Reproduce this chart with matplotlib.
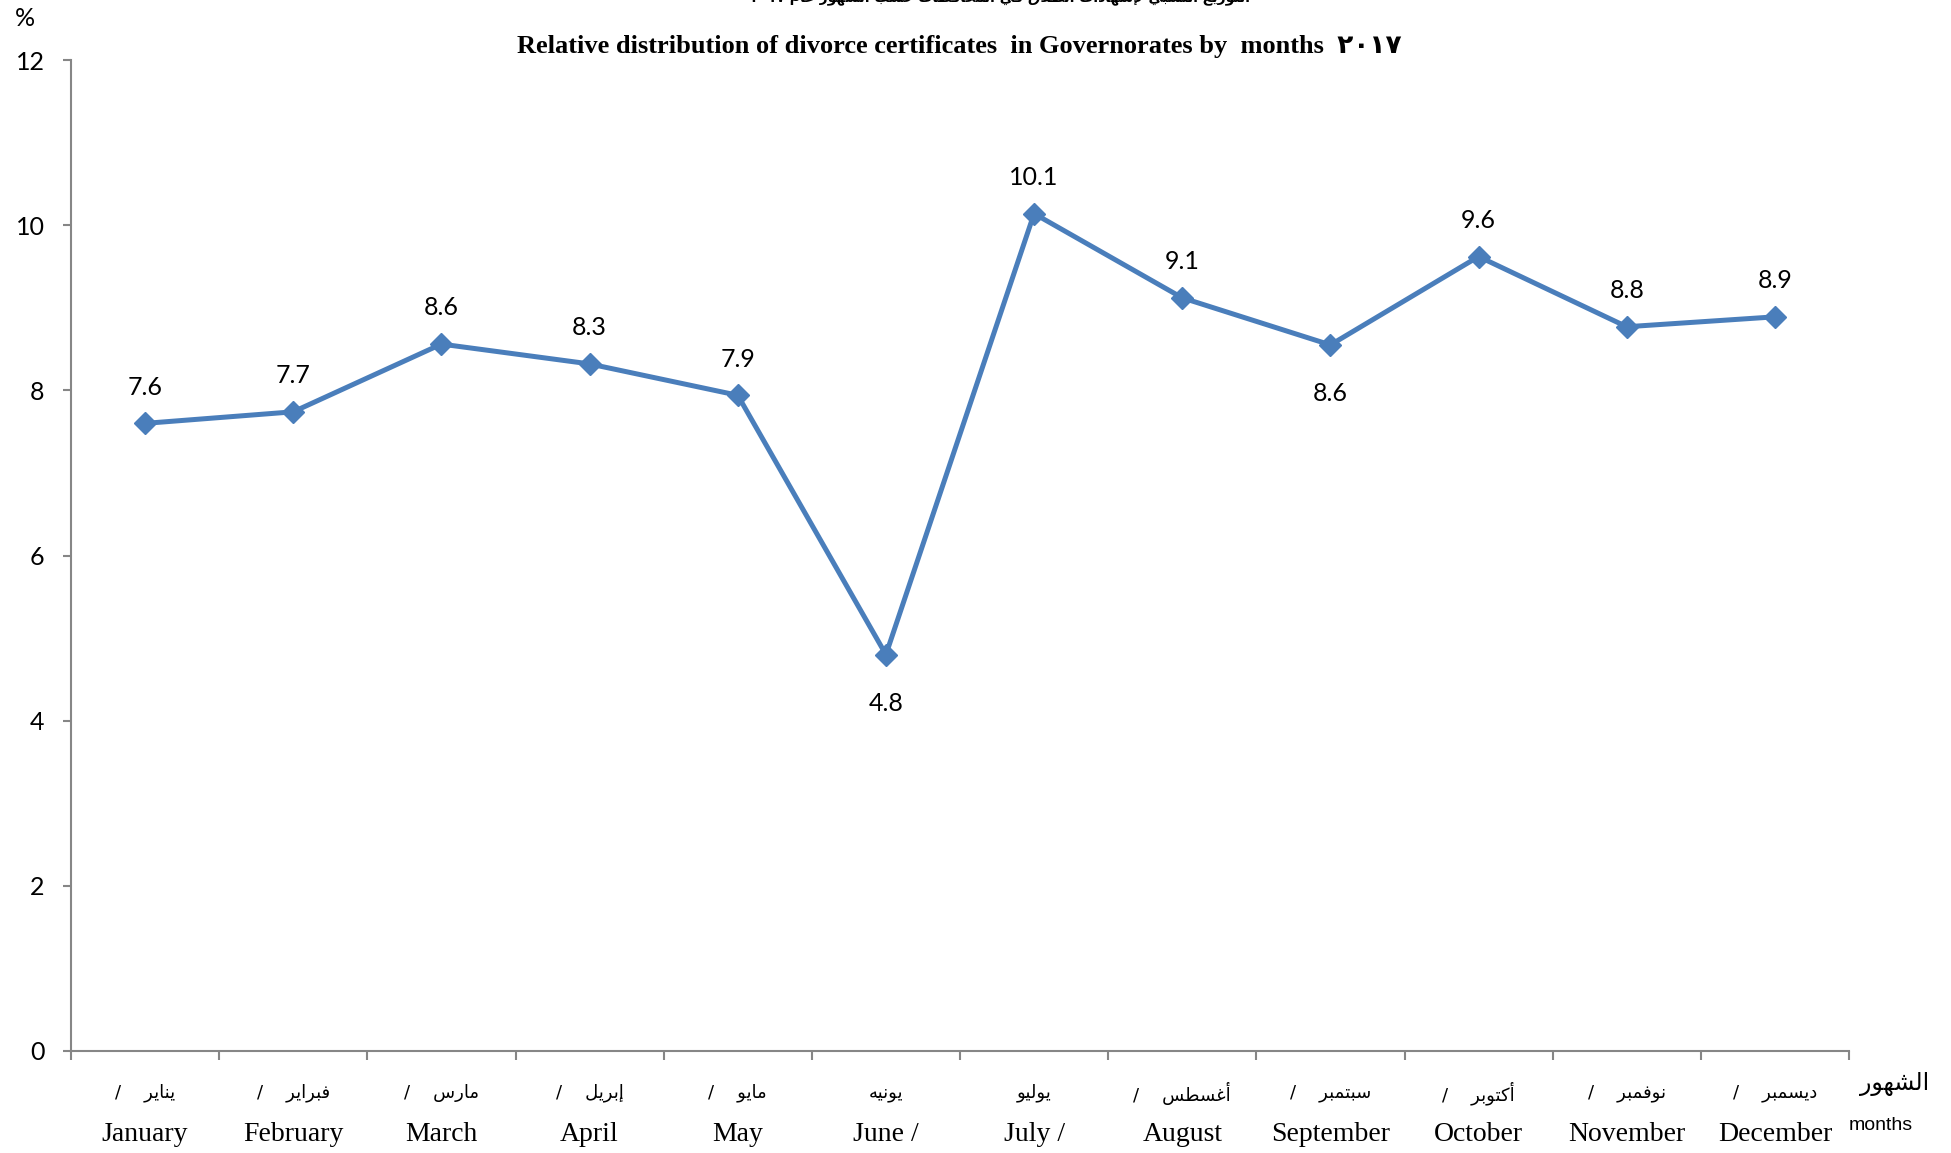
import matplotlib
matplotlib.use('Agg')
import matplotlib.pyplot as plt
import matplotlib.transforms as mtransforms

#--- data ---------------------------------------------------------
months_en = ['January', 'February', 'March', 'April', 'May', 'June /',
             'July /', 'August', 'September', 'October', 'November', 'December']
months_ar = ['يناير', 'فبراير', 'مارس', 'إبريل', 'مايو', 'يونيه',
             'يوليو', 'أغسطس', 'سبتمبر', 'أكتوبر', 'نوفمبر', 'ديسمبر']
ar_slash = [True, True, True, True, True, False,
            False, True, True, True, True, True]
values = [7.6, 7.74, 8.56, 8.32, 7.94, 4.8, 10.14, 9.12, 8.55, 9.62, 8.77, 8.89]
labels = ['7.6', '7.7', '8.6', '8.3', '7.9', '4.8', '10.1', '9.1', '8.6', '9.6', '8.8', '8.9']
label_below = [False, False, False, False, False, True,
               False, False, True, False, False, False]
y_ticks = [0, 2, 4, 6, 8, 10, 12]

title_en = 'Relative distribution of divorce certificates  in Governorates by  months'
title_year = '٢٠١٧'
title_ar = 'التوزيع النسبي لإشهادات الطلاق في المحافظات حسب الشهور عام ٢٠١٧'

#--- minimal arabic shaping (matplotlib has no text shaping) -------
DUAL = {'ب': 0xFE8F, 'ت': 0xFE95, 'ث': 0xFE99, 'ج': 0xFE9D, 'ح': 0xFEA1, 'خ': 0xFEA5,
        'س': 0xFEB1, 'ش': 0xFEB5, 'ص': 0xFEB9, 'ض': 0xFEBD, 'ط': 0xFEC1, 'ظ': 0xFEC5,
        'ع': 0xFEC9, 'غ': 0xFECD, 'ف': 0xFED1, 'ق': 0xFED5, 'ك': 0xFED9, 'ل': 0xFEDD,
        'م': 0xFEE1, 'ن': 0xFEE5, 'ه': 0xFEE9, 'ي': 0xFEF1, 'ئ': 0xFE89}
RIGHT = {'ا': 0xFE8D, 'أ': 0xFE83, 'إ': 0xFE87, 'آ': 0xFE81, 'د': 0xFEA9, 'ذ': 0xFEAB,
         'ر': 0xFEAD, 'ز': 0xFEAF, 'و': 0xFEED, 'ة': 0xFE93, 'ى': 0xFEEF, 'ؤ': 0xFE85}
LAMALEF = {'ا': 0xFEFB, 'أ': 0xFEF7, 'إ': 0xFEF9, 'آ': 0xFEF5}


def shape_word(w):
    if all('٠' <= c <= '٩' or c.isdigit() for c in w):
        return w
    units = []
    i = 0
    while i < len(w):
        if w[i] == 'ل' and i + 1 < len(w) and w[i + 1] in LAMALEF:
            units.append(('LA', LAMALEF[w[i + 1]]))
            i += 2
        else:
            units.append((w[i], None))
            i += 1
    out = []
    for k, (c, lig) in enumerate(units):
        prev = units[k - 1][0] if k > 0 else None
        nxt = units[k + 1][0] if k + 1 < len(units) else None
        jp = prev in DUAL
        if lig:
            out.append(chr(lig + (1 if jp else 0)))
        elif c in DUAL:
            jn = nxt is not None and (nxt in DUAL or nxt in RIGHT or nxt == 'LA')
            out.append(chr(DUAL[c] + (3 if jp and jn else 1 if jp else 2 if jn else 0)))
        elif c in RIGHT:
            out.append(chr(RIGHT[c] + (1 if jp else 0)))
        else:
            out.append(c)
    return ''.join(reversed(out))


def ar(text):
    return ' '.join(shape_word(w) for w in reversed(text.split(' ')))


#--- plot ---------------------------------------------------------
line_col = '#4A7EBB'
axis_col = '#868686'
num_font = ['Lato', 'DejaVu Sans']

fig = plt.figure(figsize=(19.51, 11.53), dpi=100)
ax = fig.add_axes([71/1951, 1 - 1051/1153, (1849 - 71)/1951, (1051 - 60)/1153])

x = list(range(len(values)))
ax.plot(x, values, color=line_col, lw=3.6, marker='D', markersize=11,
        markerfacecolor=line_col, markeredgecolor=line_col)

for xi, v, lab, below in zip(x, values, labels, label_below):
    off = -35 if below else 26
    ax.annotate(lab, (xi, v), xytext=(0, off), textcoords='offset points',
                ha='center', va='center', fontsize=18, family=num_font)

ax.set_xlim(-0.5, len(values) - 0.5)
ax.set_ylim(0, 12)
ax.set_yticks(y_ticks)
ax.set_yticklabels([str(t) for t in y_ticks], family=num_font, fontsize=18)
ax.set_xticks([i - 0.5 for i in range(len(values) + 1)])
ax.set_xticklabels([])
ax.tick_params(axis='y', length=6, width=1.5, color=axis_col, pad=13)
ax.tick_params(axis='x', length=6.5, width=1.5, color=axis_col)
for s in ['top', 'right']:
    ax.spines[s].set_visible(False)
for s in ['left', 'bottom']:
    ax.spines[s].set_color(axis_col)
    ax.spines[s].set_linewidth(1.5)

trans = mtransforms.blended_transform_factory(ax.transData, ax.transAxes)
for xi, en, a, sl in zip(x, months_en, months_ar, ar_slash):
    txt = ('/    ' + ar(a)) if sl else ar(a)
    ax.text(xi, -0.0424, txt, transform=trans, ha='center', va='center',
            fontsize=13, family=['DejaVu Sans'])
    ax.text(xi, -0.0838, en, transform=trans, ha='center', va='center',
            fontsize=20, family=['Liberation Serif'])

fig.text(25/1951, 1 - 19/1153, '%', ha='center', va='center', fontsize=18, family=num_font)
fig.text(1895/1951, 1 - 1084/1153, ar('الشهور'), ha='center', va='center',
         fontsize=17, family=['DejaVu Sans'])
fig.text(1881/1951, 1 - 1125/1153, 'months', ha='center', va='center',
         fontsize=14, family=['Liberation Sans'])

fig.text(959/1951, 1 - 47/1153, title_en + '  ' + title_year, ha='center', va='center',
         fontsize=19, fontweight='bold', family=['Liberation Serif', 'DejaVu Sans'])
fig.text(1000/1951, 1 + 2/1153, ar(title_ar), ha='center', va='center',
         fontsize=10, fontweight='bold', family=['DejaVu Sans'])

fig.savefig('out.png', dpi=100)
